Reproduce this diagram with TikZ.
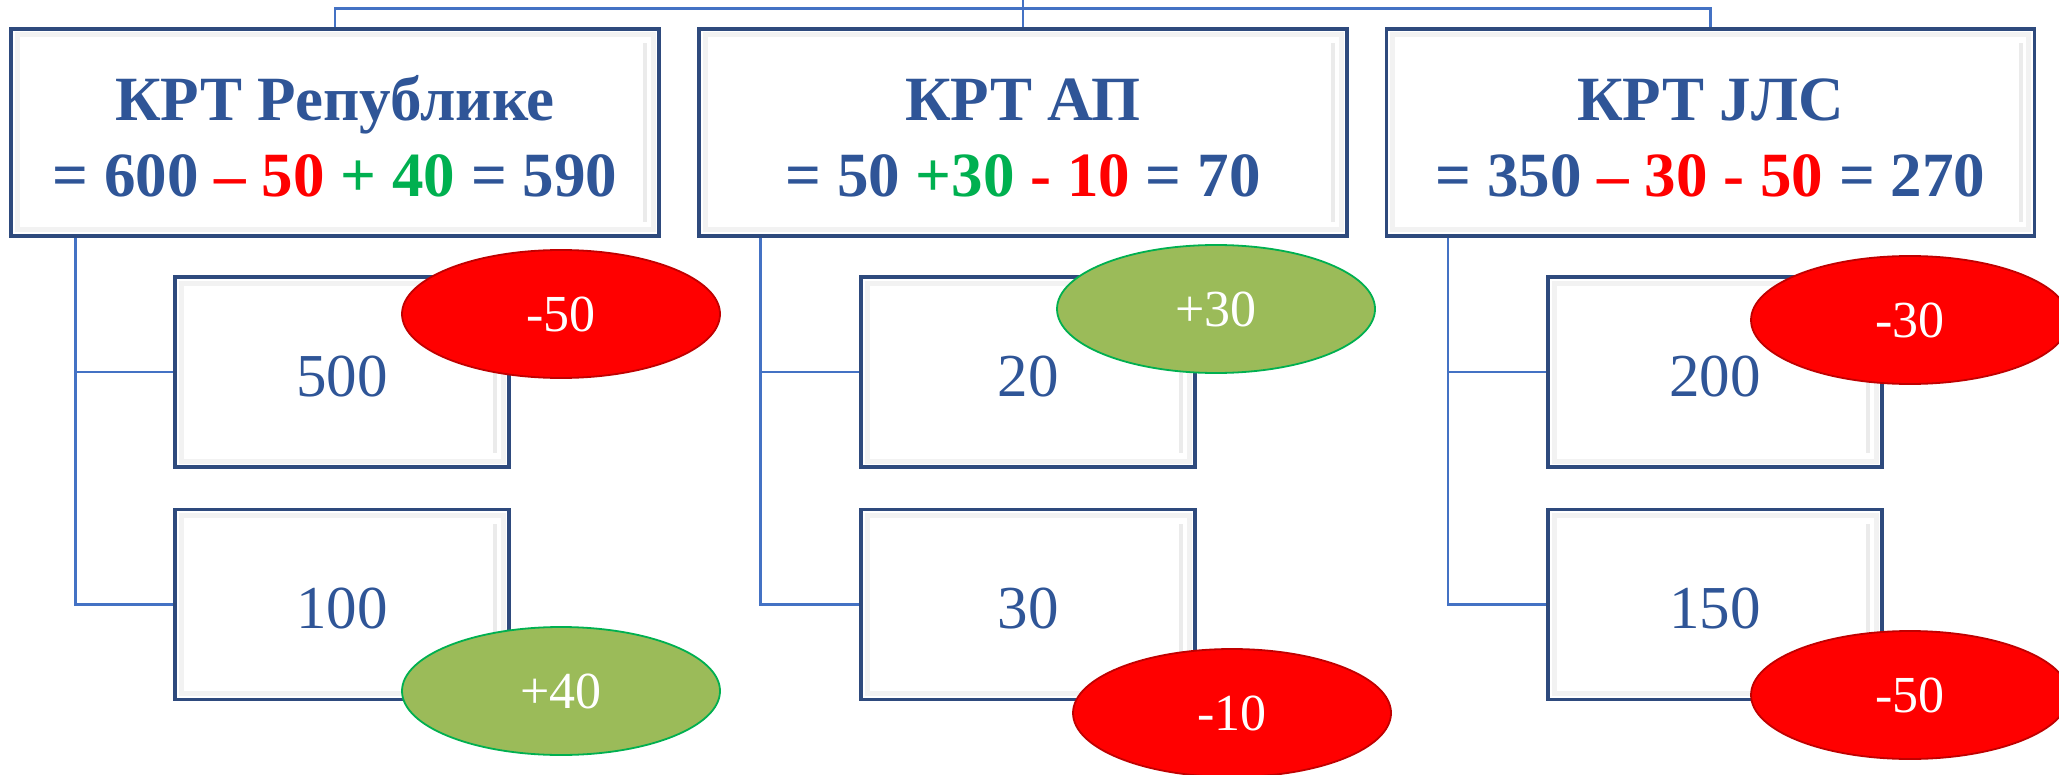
\documentclass[tikz,border=0pt]{standalone}
\usepackage{fontspec}
\setmainfont{Liberation Serif}
\usetikzlibrary{shapes.geometric,calc}
\definecolor{txtblue}{HTML}{2F5597}
\definecolor{boxline}{HTML}{2E4A7D}
\definecolor{conn}{HTML}{4472C4}
\definecolor{pgreen}{HTML}{00B050}
\definecolor{pred}{HTML}{FF0000}
\definecolor{ellred}{HTML}{FF0000}
\definecolor{ellredline}{HTML}{C00000}
\definecolor{ellgreen}{HTML}{9BBB59}
\definecolor{ellgreenline}{HTML}{00B050}
\tikzset{
  bevelbox/.style={draw=boxline, line width=1.6pt, fill=white, inner sep=0pt,
    path picture={\draw[line width=2.5pt, black!5]
      ([shift={(3pt,-3pt)}]path picture bounding box.north west) rectangle
      ([shift={(-3pt,3pt)}]path picture bounding box.south east);
      \fill[black!8] ([shift={(-8pt,-7pt)}]path picture bounding box.north east) rectangle
      ([shift={(-6pt,7pt)}]path picture bounding box.south east);}},
  headbox/.style={bevelbox, minimum width=324pt, minimum height=103.5pt,
    align=center, text=txtblue, font=\fontsize{31.5}{38}\selectfont\bfseries},
  childbox/.style={bevelbox, minimum width=167pt, minimum height=95pt,
    text height=24pt, text depth=0pt,
    text=txtblue, font=\fontsize{30.5}{36}\selectfont},
  conn/.style={draw=conn, line width=1.2pt},
  oval/.style={ellipse, minimum width=159pt, minimum height=64pt, inner sep=0pt,
    line width=0.9pt, text=white, font=\fontsize{26}{30}\selectfont},
  ovalred/.style={oval, fill=ellred, draw=ellredline},
  ovalgreen/.style={oval, fill=ellgreen, draw=ellgreenline},
}
\newcommand{\hstrut}{\rule{0pt}{26pt}}
\begin{document}
\begin{tikzpicture}[x=0.5pt,y=-0.5pt]
\useasboundingbox (0,0) rectangle (2059,775);
% header boxes
\node[headbox] (h1) at (335,132.5) {\hstrut КРТ Републике\\= 600 \textcolor{pred}{– 50} \textcolor{pgreen}{+ 40} = 590};
\node[headbox] (h2) at (1023,132.5) {\hstrut КРТ АП\\= 50 \textcolor{pgreen}{+30} \textcolor{pred}{- 10} = 70};
\node[headbox] (h3) at (1710.5,132.5) {\hstrut КРТ ЈЛС\\= 350 \textcolor{pred}{– 30 - 50} = 270};
% top connectors
\coordinate (top) at (1023,0);
\draw[conn] (top) -- (h2.north);
\draw[conn] (h1.north) -- ++(0,-19) -| (h3.north);
% child boxes
\node[childbox] (c1a) at (342,372) {500};
\node[childbox] (c1b) at (342,604.5) {100};
\node[childbox] (c2a) at (1028,372) {20};
\node[childbox] (c2b) at (1028,604.5) {30};
\node[childbox] (c3a) at (1715,372) {200};
\node[childbox] (c3b) at (1715,604.5) {150};
% child connectors
\coordinate (t1) at ([xshift=33pt]h1.south west);
\coordinate (t2) at ([xshift=31.5pt]h2.south west);
\coordinate (t3) at ([xshift=31.5pt]h3.south west);
\draw[conn] (t1) |- (c1b.west);
\draw[conn] (t1 |- c1a.west) -- (c1a.west);
\draw[conn] (t2) |- (c2b.west);
\draw[conn] (t2 |- c2a.west) -- (c2a.west);
\draw[conn] (t3) |- (c3b.west);
\draw[conn] (t3 |- c3a.west) -- (c3a.west);
% ovals
\node[ovalred] (e1a) at (561,314) {-50};
\node[ovalgreen] (e1b) at (561,691) {+40};
\node[ovalgreen] (e2a) at (1216,309) {+30};
\node[ovalred] (e2b) at (1232,713) {-10};
\node[ovalred] (e3a) at (1910,320) {-30};
\node[ovalred] (e3b) at (1910,695) {-50};
\end{tikzpicture}
\end{document}
